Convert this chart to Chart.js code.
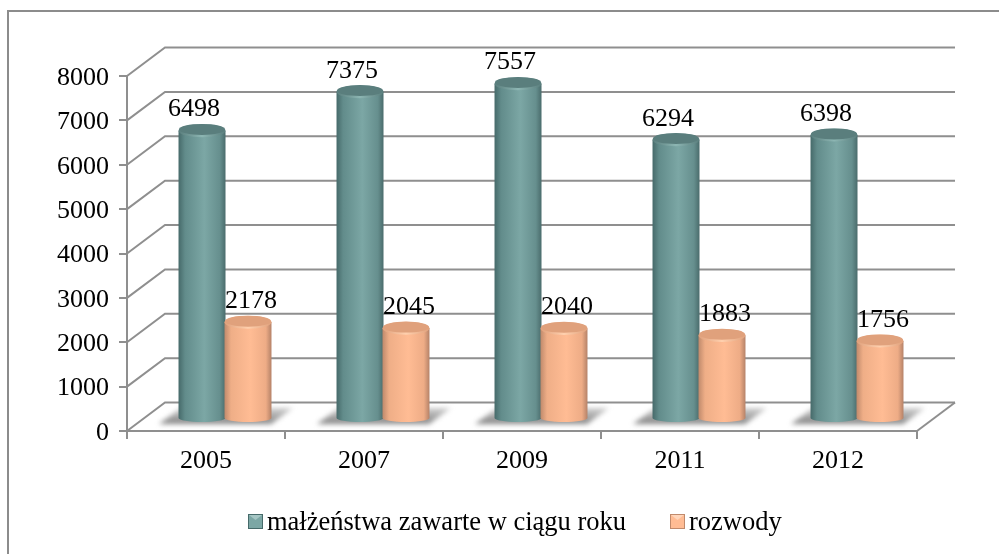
<!DOCTYPE html>
<html>
<head>
<meta charset="utf-8">
<script src="https://cdn.jsdelivr.net/npm/chart.js@4"></script>
<style>
html,body{margin:0;padding:0;background:#fff;}
#wrap{position:relative;width:999px;height:554px;}
</style>
</head>
<body>
<div id="wrap"><canvas id="myChart" width="999" height="554"></canvas></div>
<script>
const years=['2005','2007','2009','2011','2012'];
const malzenstwa=[6498,7375,7557,6294,6398];
const rozwody=[2178,2045,2040,1883,1756];
const yTicks=[0,1000,2000,3000,4000,5000,6000,7000,8000];

const fontName='"Liberation Serif"';
const lineGray='#8f8f8f';
// how far the back wall sits from the front of the box
const depthX=38, depthY=-28.5;
const barShiftX=19, barShiftY=-12;

const tealStops=['#466a6a','#628c8b','#7ca7a5','#668f8e','#4a6c6c'];
const orangeStops=['#c08a6c','#efae87','#ffbc94','#eeac86','#b58268'];

function cylinderGradient(ctx,left,right,stops){
    const g=ctx.createLinearGradient(left,0,right,0);
    g.addColorStop(0,stops[0]);
    g.addColorStop(0.14,stops[1]);
    g.addColorStop(0.55,stops[2]);
    g.addColorStop(0.88,stops[3]);
    g.addColorStop(1,stops[4]);
    return g;
}

function drawCylinder(ctx,bar,stops,topColor,rimColor){
    const left=bar.x-bar.width/2+barShiftX-0.5;
    const right=bar.x+bar.width/2+barShiftX+0.5;
    const cx=(left+right)/2, rx=(right-left)/2;
    const top=bar.y+barShiftY;
    const bottom=bar.base+barShiftY;
    ctx.beginPath();
    ctx.moveTo(left,top);
    ctx.lineTo(left,bottom);
    ctx.ellipse(cx,bottom,rx,4,0,Math.PI,0,true);
    ctx.lineTo(right,top);
    ctx.closePath();
    ctx.fillStyle=cylinderGradient(ctx,left,right,stops);
    ctx.fill();
    // top cap, lighter rim only towards the front middle
    const rim=ctx.createLinearGradient(left,0,right,0);
    rim.addColorStop(0,topColor);
    rim.addColorStop(0.5,rimColor);
    rim.addColorStop(1,topColor);
    ctx.beginPath();
    ctx.ellipse(cx,top,rx,6.5,0,0,Math.PI*2);
    ctx.fillStyle=rim;
    ctx.fill();
    ctx.beginPath();
    ctx.ellipse(cx,top-1.2,rx-0.5,5.5,0,0,Math.PI*2);
    ctx.fillStyle=topColor;
    ctx.fill();
}

const box3d={
    id:'box3d',
    beforeDatasetsDraw(chart){
        const ctx=chart.ctx, y=chart.scales.y, a=chart.chartArea;
        ctx.save();
        ctx.strokeStyle=lineGray;
        ctx.lineWidth=2;
        yTicks.forEach(function(t){
            const py=y.getPixelForValue(t);
            ctx.beginPath();
            ctx.moveTo(a.left,py);
            ctx.lineTo(a.left+depthX,py+depthY);
            ctx.lineTo(a.right+depthX,py+depthY);
            ctx.stroke();
        });
        // floor edge on the right
        ctx.beginPath();
        ctx.moveTo(a.right,a.bottom);
        ctx.lineTo(a.right+depthX,a.bottom+depthY);
        ctx.stroke();
        // shadows on the floor, dark at the bottom and fading up
        const m0=chart.getDatasetMeta(0), m1=chart.getDatasetMeta(1);
        const sh=ctx.createLinearGradient(0,a.bottom-24,0,a.bottom-7);
        sh.addColorStop(0,'#d8d8d8');
        sh.addColorStop(1,'#808080');
        ctx.filter='blur(2.5px)';
        ctx.fillStyle=sh;
        m0.data.forEach(function(bar,i){
            const l=bar.x-bar.width/2+barShiftX;
            const r=m1.data[i].x+m1.data[i].width/2+barShiftX;
            ctx.beginPath();
            ctx.moveTo(l-20,a.bottom-7);
            ctx.lineTo(l+2,a.bottom-23);
            ctx.lineTo(r+22,a.bottom-23);
            ctx.lineTo(r,a.bottom-7);
            ctx.closePath();
            ctx.fill();
        });
        ctx.restore();
    },
    afterDatasetsDraw(chart){
        const ctx=chart.ctx;
        const m0=chart.getDatasetMeta(0), m1=chart.getDatasetMeta(1);
        ctx.save();
        m0.data.forEach(function(bar,i){
            drawCylinder(ctx,bar,tealStops,'#5a7e7d','#8db6b3');
            drawCylinder(ctx,m1.data[i],orangeStops,'#e0a17c','#ffd0ae');
        });
        // value labels
        ctx.fillStyle='#000';
        ctx.font='26px '+fontName;
        ctx.textAlign='center';
        ctx.textBaseline='middle';
        m0.data.forEach(function(bar,i){
            ctx.fillText(String(malzenstwa[i]),bar.x+barShiftX-8,bar.y+barShiftY-21);
            const b=m1.data[i];
            ctx.fillText(String(rozwody[i]),b.x+barShiftX+3,b.y+barShiftY-21);
        });
        ctx.restore();
    },
    afterDraw(chart){
        const ctx=chart.ctx;
        ctx.save();
        // legend
        const items=[
            {x:248,label:chart.data.datasets[0].label,stops:tealStops,light:'#a5c6c4'},
            {x:670,label:chart.data.datasets[1].label,stops:orangeStops,light:'#ffd6bb'}
        ];
        items.forEach(function(it){
            ctx.fillStyle=it.stops[0];
            ctx.fillRect(it.x,514,15,15);
            ctx.fillStyle=it.stops[2];
            ctx.fillRect(it.x+1,515,13,13);
            ctx.fillStyle=it.light;
            ctx.beginPath();
            ctx.moveTo(it.x+1,515);
            ctx.lineTo(it.x+14,515);
            ctx.lineTo(it.x+7.5,520);
            ctx.closePath();
            ctx.fill();
            ctx.fillStyle='#000';
            ctx.font='26.5px '+fontName;
            ctx.textAlign='left';
            ctx.textBaseline='middle';
            ctx.fillText(it.label,it.x+19,523);
        });
        // outer frame, runs off the right and bottom of the picture
        ctx.strokeStyle='#8c8c8c';
        ctx.lineWidth=2;
        ctx.beginPath();
        ctx.moveTo(8,554);
        ctx.lineTo(8,11);
        ctx.lineTo(999,11);
        ctx.stroke();
        ctx.restore();
    }
};

const myChart=document.getElementById('myChart').getContext('2d');
new Chart(myChart,{
    type:'bar',
    plugins:[box3d],
    data:{
        labels:years,
        datasets:[
            {label:'małżeństwa zawarte w ciągu roku',data:malzenstwa,backgroundColor:'rgba(0,0,0,0)'},
            {label:'rozwody',data:rozwody,backgroundColor:'rgba(0,0,0,0)'}
        ]
    },
    options:{
        responsive:false,
        animation:false,
        categoryPercentage:0.582,
        barPercentage:1,
        layout:{padding:{left:0,right:82,top:76,bottom:0}},
        plugins:{legend:{display:false},title:{display:false},tooltip:{enabled:false}},
        scales:{
            x:{
                afterFit(s){s.height=123;},
                border:{color:lineGray,width:2},
                grid:{drawOnChartArea:false,color:lineGray,lineWidth:2,tickLength:8},
                ticks:{color:'#000',font:{family:fontName,size:26},padding:7,maxRotation:0}
            },
            y:{
                min:0,max:8000,
                afterFit(s){s.width=127;},
                border:{color:lineGray,width:2},
                grid:{drawOnChartArea:false,color:lineGray,lineWidth:2,tickLength:8},
                ticks:{
                    color:'#000',
                    font:{family:fontName,size:26},
                    padding:10,
                    stepSize:1000,
                    labelOffset:2,
                    callback:function(v){return String(v);}
                }
            }
        }
    }
});
</script>
</body>
</html>
